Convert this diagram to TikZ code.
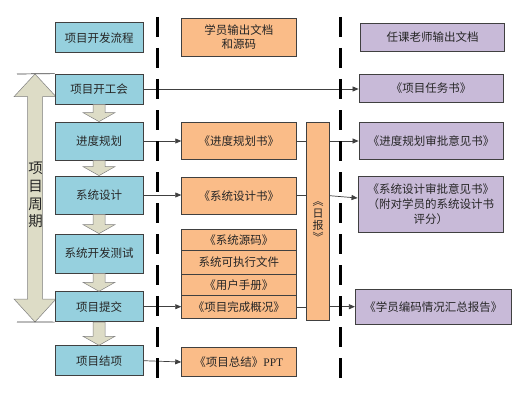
\documentclass[tikz,border=0pt]{standalone}
\usepackage{fontspec}
\setmainfont{Noto Sans CJK SC}
\newfontfamily\latfont{Liberation Serif}
\usetikzlibrary{arrows.meta,calc}
\definecolor{bluef}{HTML}{96D0DE}
\definecolor{orangef}{HTML}{FABC88}
\definecolor{purplef}{HTML}{C8BAD8}
\definecolor{tanf}{HTML}{DDDCC6}
\definecolor{edgec}{HTML}{404040}
\definecolor{txt}{HTML}{262626}
\begin{document}
\begin{tikzpicture}[x=1pt,y=-1pt,
 box/.style={draw=edgec, line width=0.8pt, inner sep=0pt, font=\fontsize{11.5}{14}\selectfont, text=txt, align=center},
 bbox/.style={box, fill=bluef, minimum width=88pt},
 obox/.style={box, fill=orangef, minimum width=114.3pt},
 pbox/.style={box, fill=purplef},
 conn/.style={draw=edgec, line width=0.7pt},
 arr/.style={conn, -{Triangle[length=6pt,width=5pt]}},
 blockarrow/.style={fill=tanf, draw=gray, line width=0.5pt},
 dashline/.style={draw=black, line width=3pt, dash pattern=on 20pt off 11pt}
]
\fill[white] (0,0) rectangle (526,401);
\path[use as bounding box] (0,0) rectangle (526,401);

% big double arrow (project cycle)
\path[blockarrow] (35,74) -- (56,96.7) -- (42.5,96.7) -- (42.5,299) -- (56,299) -- (35,322)
  -- (14,299) -- (27.5,299) -- (27.5,96.7) -- (14,96.7) -- cycle;
\node[font=\fontsize{14.5}{17.8}\selectfont, text=txt, align=center, inner sep=0pt] (zq) at (35.5,195) {项\\目\\周\\期};

% left column
\node[bbox, minimum height=30pt] (h0) at (99,37.7) {项目开发流程};
\node[bbox, minimum height=30pt] (k) at (99,89) {项目开工会};
\node[bbox, minimum height=38pt] (jd) at (99,141) {进度规划};
\node[bbox, minimum height=38pt] (xs) at (99,195) {系统设计};
\node[bbox, minimum height=39pt] (kf) at (99,253.5) {系统开发测试};
\node[bbox, minimum height=30pt] (tj) at (99,306.7) {项目提交};
\node[bbox, minimum height=30pt] (jx) at (99,360.7) {项目结项};

\coordinate (lt) at (17,74);
\coordinate (lb) at (17,322);
\draw[conn] (lt) -- (k.north west);
\draw[conn] (lb) -- (tj.south west);

% block arrows between steps
\foreach \a/\b in {k/jd, jd/xs, xs/kf, kf/tj, tj/jx} {
  \path[blockarrow] let \p1=(\a.south), \p2=(\b.north) in
    (\x1-6pt,\y1) -- (\x1-6pt,\y2+9pt) -- (\x1-16pt,\y2+9pt) -- (\x2,\y2)
    -- (\x1+16pt,\y2+9pt) -- (\x1+6pt,\y2+9pt) -- (\x1+6pt,\y1) -- cycle;
}

% middle column
\node[obox, minimum height=37.7pt] (h1) at (238.8,37.2) {学员输出文档\\和源码};
\node[obox, minimum height=36.6pt] (m1) at (238.8,141) {《进度规划书》};
\node[obox, minimum height=36.7pt] (m2) at (238.8,195.7) {《系统设计书》};
\node[obox, minimum height=21.4pt] (m3) at (238.8,240) {《系统源码》};
\node[obox, minimum height=23.3pt] (m4) at (238.8,262.3) {系统可执行文件};
\node[obox, minimum height=21.3pt] (m5) at (238.8,284.7) {《用户手册》};
\node[obox, minimum height=23.4pt] (m6) at (238.8,307) {《项目完成概况》};
\node[obox, minimum height=29.4pt] (m7) at (238.8,362) {《项目总结》{\latfont PPT}};
\node[obox, minimum width=22.6pt, minimum height=197.3pt] (rb) at (318,221.3) {};
\node[font=\fontsize{11}{12}\selectfont, text=txt, align=center, inner sep=0pt] (rbt) at (318,221.3) {︽\\日\\报\\︾};

% right column
\node[pbox, minimum width=144pt, minimum height=28.4pt] (h2) at (432.7,37.5) {任课老师输出文档};
\node[pbox, minimum width=144pt, minimum height=28.3pt] (r1) at (431,88.2) {《项目任务书》};
\node[pbox, minimum width=144pt, minimum height=36.6pt] (r2) at (431,141) {《进度规划审批意见书》};
\node[pbox, minimum width=145.7pt, minimum height=55.6pt, font=\fontsize{11.5}{15}\selectfont] (r3) at (430.8,204.5) {《系统设计审批意见书》\\（附对学员的系统设计书\\评分）};
\node[pbox, minimum width=156pt, minimum height=34.7pt] (r4) at (433.3,306.7) {《学员编码情况汇总报告》};

% connectors
\draw[arr] (k.east) -- (k.east -| r1.west);
\draw[arr] (jd.east) -- (m1.west);
\draw[conn] (m1.east) -- (m1.east -| rb.west);
\draw[arr] (r2.west -| rb.east) -- (r2.west);
\draw[arr] (xs.east) -- (xs.east -| m2.west);
\draw[conn] (m2.east) -- (m2.east -| rb.west);
\draw[arr] (rb.east |- m2.east) -- ([yshift=6.5pt]r3.west);
\draw[arr] (tj.east) -- (tj.east -| m6.west);
\draw[conn] (m6.east) -- (m6.east -| rb.west);
\draw[arr] (r4.west -| rb.east) -- (r4.west);
\draw[arr] (jx.east) -- (m7.west);

% dashed separators
\coordinate (d1t) at (157,17);
\coordinate (d1b) at (157,387);
\coordinate (d2t) at (340,17);
\coordinate (d2b) at (340,387);
\draw[dashline] (d1t) -- (d1b);
\draw[dashline] (d2t) -- (d2b);
\end{tikzpicture}
\end{document}
